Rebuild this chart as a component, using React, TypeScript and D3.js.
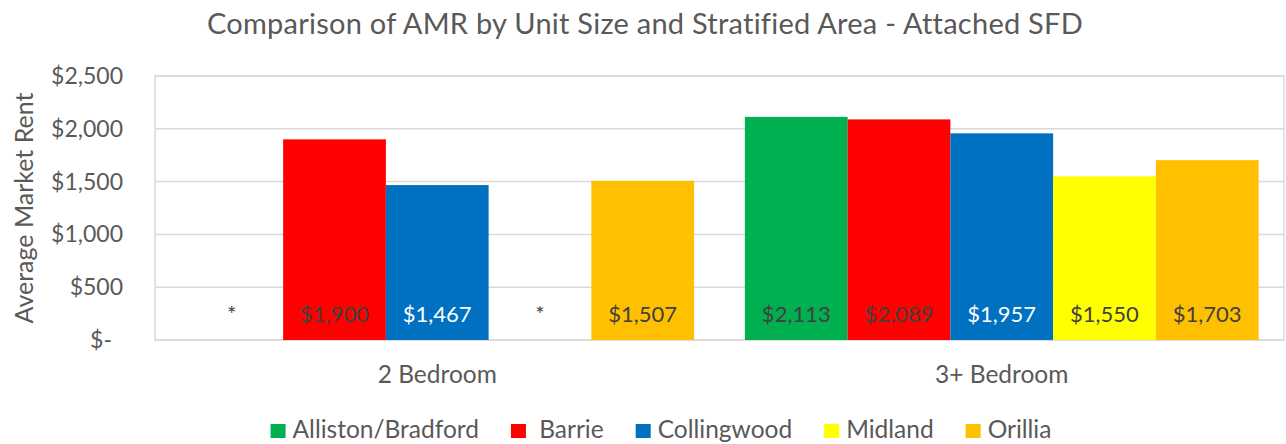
import React from "react";
import * as d3 from "d3";

const title = "Comparison of AMR by Unit Size and Stratified Area - Attached SFD";
const yAxisTitle = "Average Market Rent";
const categories = ["2 Bedroom", "3+ Bedroom"];
const seriesNames = ["Alliston/Bradford", "Barrie", "Collingwood", "Midland", "Orillia"];
const legendLabels = ["Alliston/Bradford", " Barrie", "Collingwood", "Midland", "Orillia"];
const seriesColors = ["#00B050", "#FF0000", "#0070C0", "#FFFF00", "#FFC000"];
const labelColors = ["#404040", "#404040", "#FFFFFF", "#404040", "#404040"];
// values per series: [2 Bedroom, 3+ Bedroom]; null = suppressed (*)
const allistonValues: (number | null)[] = [null, 2113];
const barrieValues: (number | null)[] = [1900, 2089];
const collingwoodValues: (number | null)[] = [1467, 1957];
const midlandValues: (number | null)[] = [null, 1550];
const orilliaValues: (number | null)[] = [1507, 1703];
const seriesValues = [allistonValues, barrieValues, collingwoodValues, midlandValues, orilliaValues];
const yTicks = [0, 500, 1000, 1500, 2000, 2500];
const yTickLabels = ["$-", "$500", "$1,000", "$1,500", "$2,000", "$2,500"];

const W = 1286;
const H = 444;
const FONT = "Lato, 'Open Sans', sans-serif";
const TEXT = "#595959";
const GRID = "#D9D9D9";

const plot = { left: 155, right: 1284, top: 76, bottom: 340 };

function measure(text: string, size: number) {
  const c = document.createElement("canvas").getContext("2d");
  if (!c) return text.length * size * 0.5;
  c.font = `${size}px Lato`;
  return c.measureText(text).width;
}

const fmt = (v: number) => "$" + d3.format(",")(v);

export default function App() {
  const x0 = d3
    .scaleBand<string>()
    .domain(categories)
    .range([plot.left, plot.right])
    .paddingInner(0.09)
    .paddingOuter(0.045);
  const x1 = d3.scaleBand<string>().domain(seriesNames).range([0, x0.bandwidth()]);
  const y = d3.scaleLinear().domain([0, 2500]).range([plot.bottom, plot.top]);

  const legendFont = 24.5;
  const sq = 15;
  const sqGap = 7;
  const itemGap = 32;
  const widths = legendLabels.map((l) => sq + sqGap + measure(l, legendFont));
  const total = d3.sum(widths) + itemGap * (widths.length - 1);
  let lx = 661 - total / 2;
  const legendX = widths.map((w) => {
    const p = lx;
    lx += w + itemGap;
    return p;
  });

  return (
    <div style={{ position: "absolute", left: 0, top: 0 }}>
      <svg width={W} height={H} style={{ display: "block", background: "#fff" }} fontFamily={FONT}>
        <text x={645} y={34} textAnchor="middle" fontSize={29} letterSpacing={0.25} fill={TEXT}>
          {title}
        </text>
        {/* gridlines */}
        {yTicks.map((t) => (
          <line key={t} x1={plot.left} x2={plot.right} y1={y(t)} y2={y(t)} stroke={GRID} strokeWidth={1.5} />
        ))}
        <rect
          x={plot.left}
          y={plot.top}
          width={plot.right - plot.left}
          height={plot.bottom - plot.top}
          fill="none"
          stroke={GRID}
          strokeWidth={1.5}
        />
        {/* y tick labels */}
        {yTicks.map((t, i) => (
          <text
            key={t}
            x={t === 0 ? 112 : 123}
            y={y(t)}
            dy="0.35em"
            textAnchor="end"
            fontSize={23}
            fill={TEXT}
          >
            {yTickLabels[i]}
          </text>
        ))}
        <text
          transform={`translate(33,${(plot.top + plot.bottom) / 2}) rotate(-90)`}
          textAnchor="middle"
          fontSize={25}
          fill={TEXT}
        >
          {yAxisTitle}
        </text>
        {/* bars */}
        {categories.map((cat, ci) => (
          <g key={cat} transform={`translate(${x0(cat)},0)`}>
            {seriesNames.map((s, si) => {
              const v = seriesValues[si][ci];
              const bx = x1(s) as number;
              const cx = bx + x1.bandwidth() / 2;
              return (
                <g key={s}>
                  {v != null && (
                    <rect x={bx} y={y(v)} width={x1.bandwidth()} height={y(0) - y(v)} fill={seriesColors[si]} />
                  )}
                  <text
                    x={cx}
                    y={y(0) - 18}
                    textAnchor="middle"
                    fontSize={22}
                    fill={v != null ? labelColors[si] : "#404040"}
                  >
                    {v != null ? fmt(v) : "*"}
                  </text>
                </g>
              );
            })}
          </g>
        ))}
        {/* category labels */}
        {categories.map((cat) => (
          <text
            key={cat}
            x={(x0(cat) as number) + x0.bandwidth() / 2}
            y={383}
            textAnchor="middle"
            fontSize={24.5}
            fill={TEXT}
          >
            {cat}
          </text>
        ))}
        {/* legend */}
        {legendLabels.map((l, i) => (
          <g key={l} transform={`translate(${legendX[i]},0)`}>
            <rect x={0} y={424} width={sq} height={sq - 1} fill={seriesColors[i]} />
            <text x={sq + sqGap} y={438} fontSize={legendFont} fill={TEXT} style={{ whiteSpace: "pre" }}>
              {l}
            </text>
          </g>
        ))}
      </svg>
    </div>
  );
}
